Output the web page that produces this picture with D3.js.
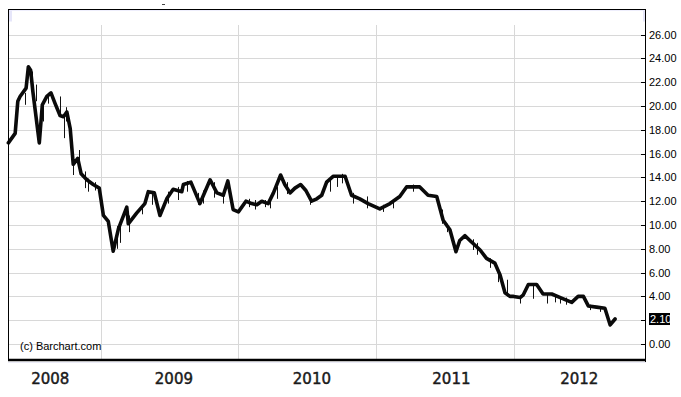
<!DOCTYPE html>
<html>
<head>
<meta charset="utf-8">
<script src="https://cdn.jsdelivr.net/npm/d3@7/dist/d3.min.js"></script>
<style>
  html, body { margin: 0; padding: 0; background: #fff; }
  svg { display: block; }
  .tick-label { font-family: "Liberation Sans", Arial, sans-serif; font-size: 11px; fill: #000; }
  .year-label { font-family: "DejaVu Sans", Verdana, sans-serif; font-size: 15px; fill: #1a1a1a; stroke: #1a1a1a; stroke-width: 0.45px; }
</style>
</head>
<body>
<svg id="chart" width="681" height="397"></svg>
<script>
// Close line (weekly)
const closeDates = [
  "2008-05-01","2008-05-19","2008-05-26","2008-06-01","2008-06-17","2008-06-23","2008-06-29","2008-07-05",
  "2008-07-22","2008-07-30","2008-08-11","2008-08-22","2008-09-02","2008-09-15","2008-09-24","2008-10-03",
  "2008-10-12","2008-10-20","2008-11-01","2008-11-10","2008-11-25","2008-12-12","2008-12-28",
  "2009-01-08","2009-01-21","2009-02-03","2009-02-17","2009-03-11","2009-03-15","2009-04-06","2009-04-28",
  "2009-05-07","2009-05-23","2009-06-07","2009-06-25","2009-07-12","2009-08-04","2009-08-08","2009-08-28",
  "2009-09-21","2009-10-18","2009-11-05","2009-11-22","2009-12-04","2009-12-18",
  "2010-01-01","2010-01-21","2010-02-05","2010-02-19","2010-03-04","2010-03-21","2010-04-04","2010-04-23",
  "2010-05-04","2010-05-18","2010-05-31","2010-06-15","2010-06-29","2010-07-14","2010-07-28","2010-08-10",
  "2010-08-23","2010-09-10","2010-10-11","2010-10-28","2010-11-19","2010-12-11",
  "2011-01-11","2011-02-07","2011-03-05","2011-03-23","2011-04-27","2011-05-19","2011-06-11","2011-06-28",
  "2011-07-16","2011-08-01","2011-08-11","2011-08-25","2011-09-07","2011-10-04","2011-10-21","2011-11-12",
  "2011-11-26","2011-12-09","2011-12-22",
  "2012-01-01","2012-01-18","2012-01-26","2012-02-09","2012-03-02","2012-03-19","2012-04-11","2012-05-07",
  "2012-06-03","2012-06-20","2012-07-04","2012-07-17","2012-08-08","2012-08-30","2012-09-13","2012-09-26"
];
const closeValues = [
  16.9,17.7,20.4,20.8,21.5,23.3,23.0,21.2,
  16.9,20.1,20.8,21.1,20.2,19.2,19.1,19.5,
  18.1,15.1,15.6,14.3,13.8,13.4,13.1,
  10.8,10.3,7.8,9.7,11.5,10.1,11.0,11.8,
  12.8,12.7,10.8,12.2,13.0,12.8,13.4,13.6,
  11.8,13.8,12.7,12.5,13.7,11.3,
  11.1,12.0,11.8,11.7,12.0,11.8,12.7,14.2,
  13.4,12.7,13.1,13.4,12.9,12.0,12.2,12.5,
  13.6,14.1,14.1,12.5,12.2,11.8,
  11.35,11.8,12.4,13.2,13.2,12.5,12.4,10.4,
  9.6,7.75,8.7,9.1,8.7,7.9,7.2,6.8,
  5.8,4.3,4.0,
  4.0,3.9,4.1,5.0,5.0,4.2,4.2,3.85,
  3.5,4.0,4.0,3.2,3.1,3.0,1.6,2.1
];

// Thin high/low bars that stick out of the close line
const wickDates = [
  "2008-06-14","2008-07-02","2008-07-13","2008-08-01","2008-08-13","2008-09-14","2008-09-26","2008-09-30",
  "2008-10-19","2008-11-03","2008-11-19","2008-11-28","2008-12-16",
  "2009-02-12","2009-02-21","2009-03-18","2009-04-20","2009-05-16","2009-06-28","2009-07-26","2009-08-18",
  "2009-09-17","2009-09-28","2009-10-28","2009-11-22",
  "2010-01-28","2010-02-14","2010-03-12","2010-03-26","2010-04-13","2010-05-10","2010-07-10","2010-09-01",
  "2010-09-19","2010-10-02","2010-11-01","2010-12-07",
  "2011-01-20","2011-02-16","2011-04-10","2011-06-24","2011-07-09","2011-09-16","2011-09-25","2011-10-30",
  "2011-11-21","2011-12-15",
  "2012-01-18","2012-02-22","2012-03-29","2012-04-20","2012-05-03","2012-05-20","2012-07-22","2012-08-17"
];
const wickLows = [
  20.1,20.8,20.4,18.7,20.2,19.4,17.3,18.7,
  14.2,14.8,13.1,12.8,12.9,
  8.0,8.5,9.4,10.9,11.7,11.8,12.1,12.8,
  11.7,11.8,12.3,11.8,
  11.5,11.3,11.5,11.4,12.2,12.6,11.7,12.8,
  13.2,13.5,11.8,11.4,
  11.1,11.4,12.8,10.1,9.4,7.9,7.5,6.4,
  5.2,4.0,
  3.4,3.8,3.4,3.5,3.4,3.3,2.85,2.7
];
const wickHighs = [
  21.1,22.9,21.8,20.2,21.1,20.8,19.4,19.9,
  15.9,16.3,14.5,13.9,13.6,
  9.9,9.9,10.8,11.6,12.8,12.8,13.2,13.7,
  12.7,12.9,13.6,12.8,
  12.2,12.1,12.1,12.3,13.2,13.6,12.4,13.9,
  14.1,14.3,12.7,12.4,
  11.7,12.0,13.4,11.3,10.1,8.8,8.5,7.2,
  6.2,5.4,
  4.0,5.0,4.2,4.1,4.0,3.9,3.3,3.1
];

const yTicks = [0, 2, 4, 6, 8, 10, 12, 14, 16, 18, 20, 22, 24, 26];
const yearLines = ["2009-01-01", "2010-01-01", "2011-01-01", "2012-01-01"];
const yearLabels = ["2008", "2009", "2010", "2011", "2012"];
const yearLabelDates = ["2008-08-20", "2009-07-14", "2010-07-15", "2011-07-20", "2012-06-23"];
const lastValue = 2.10;

// Layout
const plot = { left: 8, right: 646, top: 9.5, bottom: 360 };
const parse = d3.timeParse("%Y-%m-%d");

const x = d3.scaleTime()
  .domain([parse("2008-04-30"), parse("2012-12-17")])
  .range([plot.left, plot.right]);
const y = d3.scaleLinear().domain([0, 26]).range([344, 34.6]);

const svg = d3.select("#chart");

// faint lavender bits along the top of the frame
svg.append("rect").attr("x", plot.left).attr("y", plot.top).attr("width", plot.right - plot.left).attr("height", 1.5).attr("fill", "#eeeefc");
svg.append("rect").attr("x", plot.left + 1).attr("y", plot.top + 1).attr("width", 3).attr("height", 11).attr("fill", "#e6e6fa");
svg.append("rect").attr("x", plot.right - 3).attr("y", plot.top + 1).attr("width", 2).attr("height", 11).attr("fill", "#e6e6fa");
svg.append("rect").attr("x", 162).attr("y", 4).attr("width", 3).attr("height", 1).attr("fill", "#444");

// grid
const grid = svg.append("g").attr("stroke", "#d8d8d8").attr("stroke-width", 1);
grid.selectAll("line.h").data(yTicks).join("line")
  .attr("x1", plot.left).attr("x2", plot.right - 5)
  .attr("y1", d => Math.round(y(d)) + 0.5).attr("y2", d => Math.round(y(d)) + 0.5);
grid.selectAll("line.v").data(yearLines).join("line")
  .attr("x1", d => Math.round(x(parse(d))) + 0.5).attr("x2", d => Math.round(x(parse(d))) + 0.5)
  .attr("y1", 25).attr("y2", plot.bottom);

// thin bars
svg.append("g").attr("stroke", "#111").attr("stroke-width", 1)
  .selectAll("line").data(wickDates).join("line")
  .attr("x1", d => Math.round(x(parse(d))) + 0.5).attr("x2", d => Math.round(x(parse(d))) + 0.5)
  .attr("y1", (d, i) => y(wickLows[i])).attr("y2", (d, i) => y(wickHighs[i]));

// close line
const series = closeDates.map((d, i) => ({ date: parse(d), value: closeValues[i] }));
svg.append("path")
  .datum(series)
  .attr("fill", "none")
  .attr("stroke", "#0a0a0a")
  .attr("stroke-width", 3.6)
  .attr("stroke-linejoin", "round")
  .attr("stroke-linecap", "round")
  .attr("d", d3.line().x(d => x(d.date)).y(d => y(d.value)));

// frame
svg.append("line").attr("x1", plot.left).attr("x2", plot.right).attr("y1", plot.top).attr("y2", plot.top).attr("stroke", "#000");
svg.append("line").attr("x1", plot.left + 0.5).attr("x2", plot.left + 0.5).attr("y1", plot.top).attr("y2", plot.bottom).attr("stroke", "#000");
svg.append("line").attr("x1", plot.right - 0.5).attr("x2", plot.right - 0.5).attr("y1", plot.top).attr("y2", plot.bottom + 2).attr("stroke", "#000");
svg.append("line").attr("x1", plot.left).attr("x2", plot.right).attr("y1", plot.bottom).attr("y2", plot.bottom).attr("stroke", "#000").attr("stroke-width", 2.6);
svg.append("line").attr("x1", plot.left).attr("x2", plot.right).attr("y1", plot.bottom + 2.5).attr("y2", plot.bottom + 2.5).attr("stroke", "#ececf8");

// right axis
const yAxis = svg.append("g");
yAxis.selectAll("line").data(yTicks).join("line")
  .attr("x1", plot.right - 5).attr("x2", plot.right)
  .attr("y1", d => Math.round(y(d)) + 0.5).attr("y2", d => Math.round(y(d)) + 0.5)
  .attr("stroke", "#000");
yAxis.selectAll("text").data(yTicks.filter(d => d !== 2)).join("text")
  .attr("class", "tick-label")
  .attr("x", plot.right + 3).attr("y", d => y(d) + 4)
  .text(d3.format(".2f"));

// last value marker
const lv = svg.append("g");
lv.append("rect").attr("x", plot.right + 3).attr("y", y(lastValue) - 6).attr("width", 21).attr("height", 12).attr("fill", "#000");
lv.append("text").attr("class", "tick-label").attr("x", plot.right + 4).attr("y", y(lastValue) + 4)
  .style("fill", "#fff").text(d3.format(".2f")(lastValue));

// years
svg.append("g").selectAll("text").data(yearLabels).join("text")
  .attr("class", "year-label")
  .attr("text-anchor", "middle")
  .attr("x", (d, i) => x(parse(yearLabelDates[i])))
  .attr("y", 384)
  .text(d => d);

// credit
svg.append("text").attr("class", "tick-label").attr("x", 20).attr("y", 350).text("(c) Barchart.com");
</script>
</body>
</html>
